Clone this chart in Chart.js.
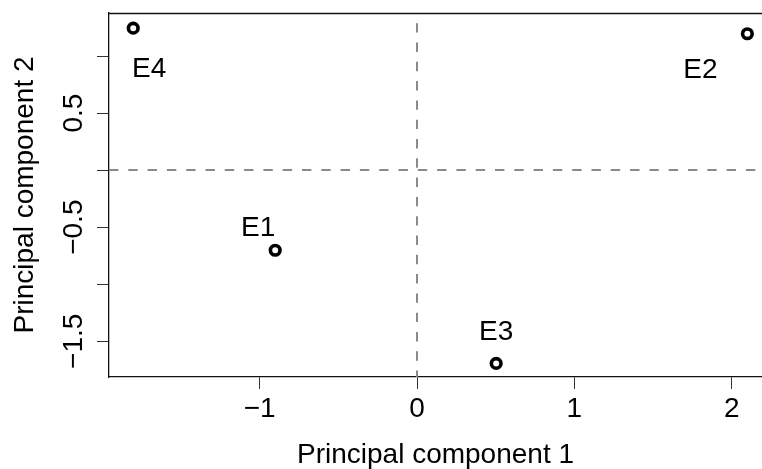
<!DOCTYPE html>
<html><head><meta charset="utf-8">
<script src="https://cdn.jsdelivr.net/npm/chart.js@4"></script>
<style>html,body{margin:0;padding:0;background:#fff;overflow:hidden}#wrap{width:762px;height:469px}</style>
</head><body><div id="wrap"><canvas id="c" width="762" height="469"></canvas></div>
<script>
// ---- data ----
const sampleNames = ['E1', 'E2', 'E3', 'E4'];
const pc1 = [-0.901, 2.099, 0.503, -1.803];
const pc2 = [-0.702, 1.195, -1.694, 1.244];
const xTicks = [-1, 0, 1, 2];
const xTickLabels = ['\u22121', '0', '1', '2'];
const yTicks = [-1.5, -1, -0.5, 0, 0.5, 1];
const yTickLabels = ['\u22121.5', '', '\u22120.5', '', '0.5', ''];
const xTitle = 'Principal component 1';
const yTitle = 'Principal component 2';
const xRange = [-1.957, 2.192];
const yRange = [-1.813, 1.377];

// ---- styling ----
const FONT = "'Liberation Sans', Arial, sans-serif";
const FS = 28;
const labelOffsets = { E1: [-17, -24], E2: [-47, 34], E3: [0, -33], E4: [16, 39] };

Chart.defaults.font.family = FONT;

const refLines = {
  id: 'refLines',
  beforeDatasetsDraw(chart) {
    const { ctx, chartArea: a, scales: { x, y } } = chart;
    ctx.save();
    ctx.beginPath(); ctx.rect(a.left, a.top, a.right - a.left, a.bottom - a.top); ctx.clip();
    ctx.strokeStyle = '#8a8a8a'; ctx.lineWidth = 2; ctx.setLineDash([9.4, 9.9]);
    const px = Math.round(x.getPixelForValue(0));
    const py = Math.round(y.getPixelForValue(0));
    ctx.beginPath(); ctx.moveTo(px, a.bottom + 3); ctx.lineTo(px, a.top); ctx.stroke();
    ctx.beginPath(); ctx.moveTo(a.left, py); ctx.lineTo(a.right, py); ctx.stroke();
    ctx.restore();
  }
};

const boxTop = {
  id: 'boxTop',
  afterDraw(chart) {
    const { ctx, chartArea: a } = chart;
    ctx.save();
    ctx.strokeStyle = '#111'; ctx.lineWidth = 1.3;
    ctx.beginPath(); ctx.moveTo(a.left - 0.5, a.top + 0.5); ctx.lineTo(a.right, a.top + 0.5); ctx.stroke();
    ctx.restore();
  }
};

const pointLabels = {
  id: 'pointLabels',
  afterDatasetsDraw(chart) {
    const { ctx } = chart;
    const meta = chart.getDatasetMeta(0);
    ctx.save();
    ctx.font = FS + 'px ' + FONT; ctx.fillStyle = '#000';
    ctx.textAlign = 'center'; ctx.textBaseline = 'alphabetic';
    meta.data.forEach((pt, i) => {
      const off = labelOffsets[sampleNames[i]];
      ctx.fillText(sampleNames[i], pt.x + off[0], pt.y + off[1] + 10);
    });
    ctx.restore();
  }
};

const yTickText = {
  id: 'yTickText',
  afterDraw(chart) {
    const { ctx, scales: { y } } = chart;
    ctx.save();
    ctx.font = FS + 'px ' + FONT; ctx.fillStyle = '#000';
    ctx.textAlign = 'center'; ctx.textBaseline = 'alphabetic';
    yTicks.forEach((v, i) => {
      if (!yTickLabels[i]) return;
      ctx.save();
      ctx.translate(82, y.getPixelForValue(v));
      ctx.rotate(-Math.PI / 2);
      ctx.fillText(yTickLabels[i], 0, 0);
      ctx.restore();
    });
    ctx.restore();
  }
};

new Chart(document.getElementById('c'), {
  type: 'scatter',
  data: {
    datasets: [{
      data: pc1.map((v, i) => ({ x: v, y: pc2[i] })),
      pointRadius: 4.8, pointHoverRadius: 4.8,
      pointBorderWidth: 3.6, pointBorderColor: '#000',
      pointBackgroundColor: 'rgba(0,0,0,0)'
    }]
  },
  options: {
    responsive: false, animation: false, devicePixelRatio: 1, events: [],
    layout: { autoPadding: false, padding: { top: 13, left: 0, right: 0, bottom: 0 } },
    plugins: { legend: { display: false }, tooltip: { enabled: false } },
    scales: {
      x: {
        type: 'linear', min: xRange[0], max: xRange[1],
        afterBuildTicks: s => { s.ticks = xTicks.map(v => ({ value: v })); },
        afterFit: s => { s.height = 92; s.paddingLeft = 0; s.paddingRight = 0; },
        grid: { drawOnChartArea: false, drawTicks: true, tickLength: 12, color: '#333', lineWidth: 1 },
        border: { display: true, color: '#111', width: 1.3 },
        ticks: {
          callback: (v, i) => xTickLabels[i] ?? '',
          font: { size: FS }, color: '#000', padding: 3,
          maxRotation: 0, minRotation: 0, autoSkip: false
        },
        title: { display: true, text: xTitle, color: '#000', font: { size: FS, lineHeight: 1 }, padding: { top: 0, bottom: 0 } }
      },
      y: {
        type: 'linear', min: yRange[0], max: yRange[1],
        afterBuildTicks: s => { s.ticks = yTicks.map(v => ({ value: v })); },
        afterFit: s => { s.width = 109; s.paddingTop = 0; s.paddingBottom = 0; },
        grid: { drawOnChartArea: false, drawTicks: true, tickLength: 12, color: '#333', lineWidth: 1 },
        border: { display: true, color: '#111', width: 1.3 },
        ticks: { display: false },
        title: { display: true, text: yTitle, color: '#000', font: { size: FS, lineHeight: 1 }, padding: { top: 11, bottom: 0 } }
      }
    }
  },
  plugins: [refLines, boxTop, pointLabels, yTickText]
});
</script>
</body></html>
